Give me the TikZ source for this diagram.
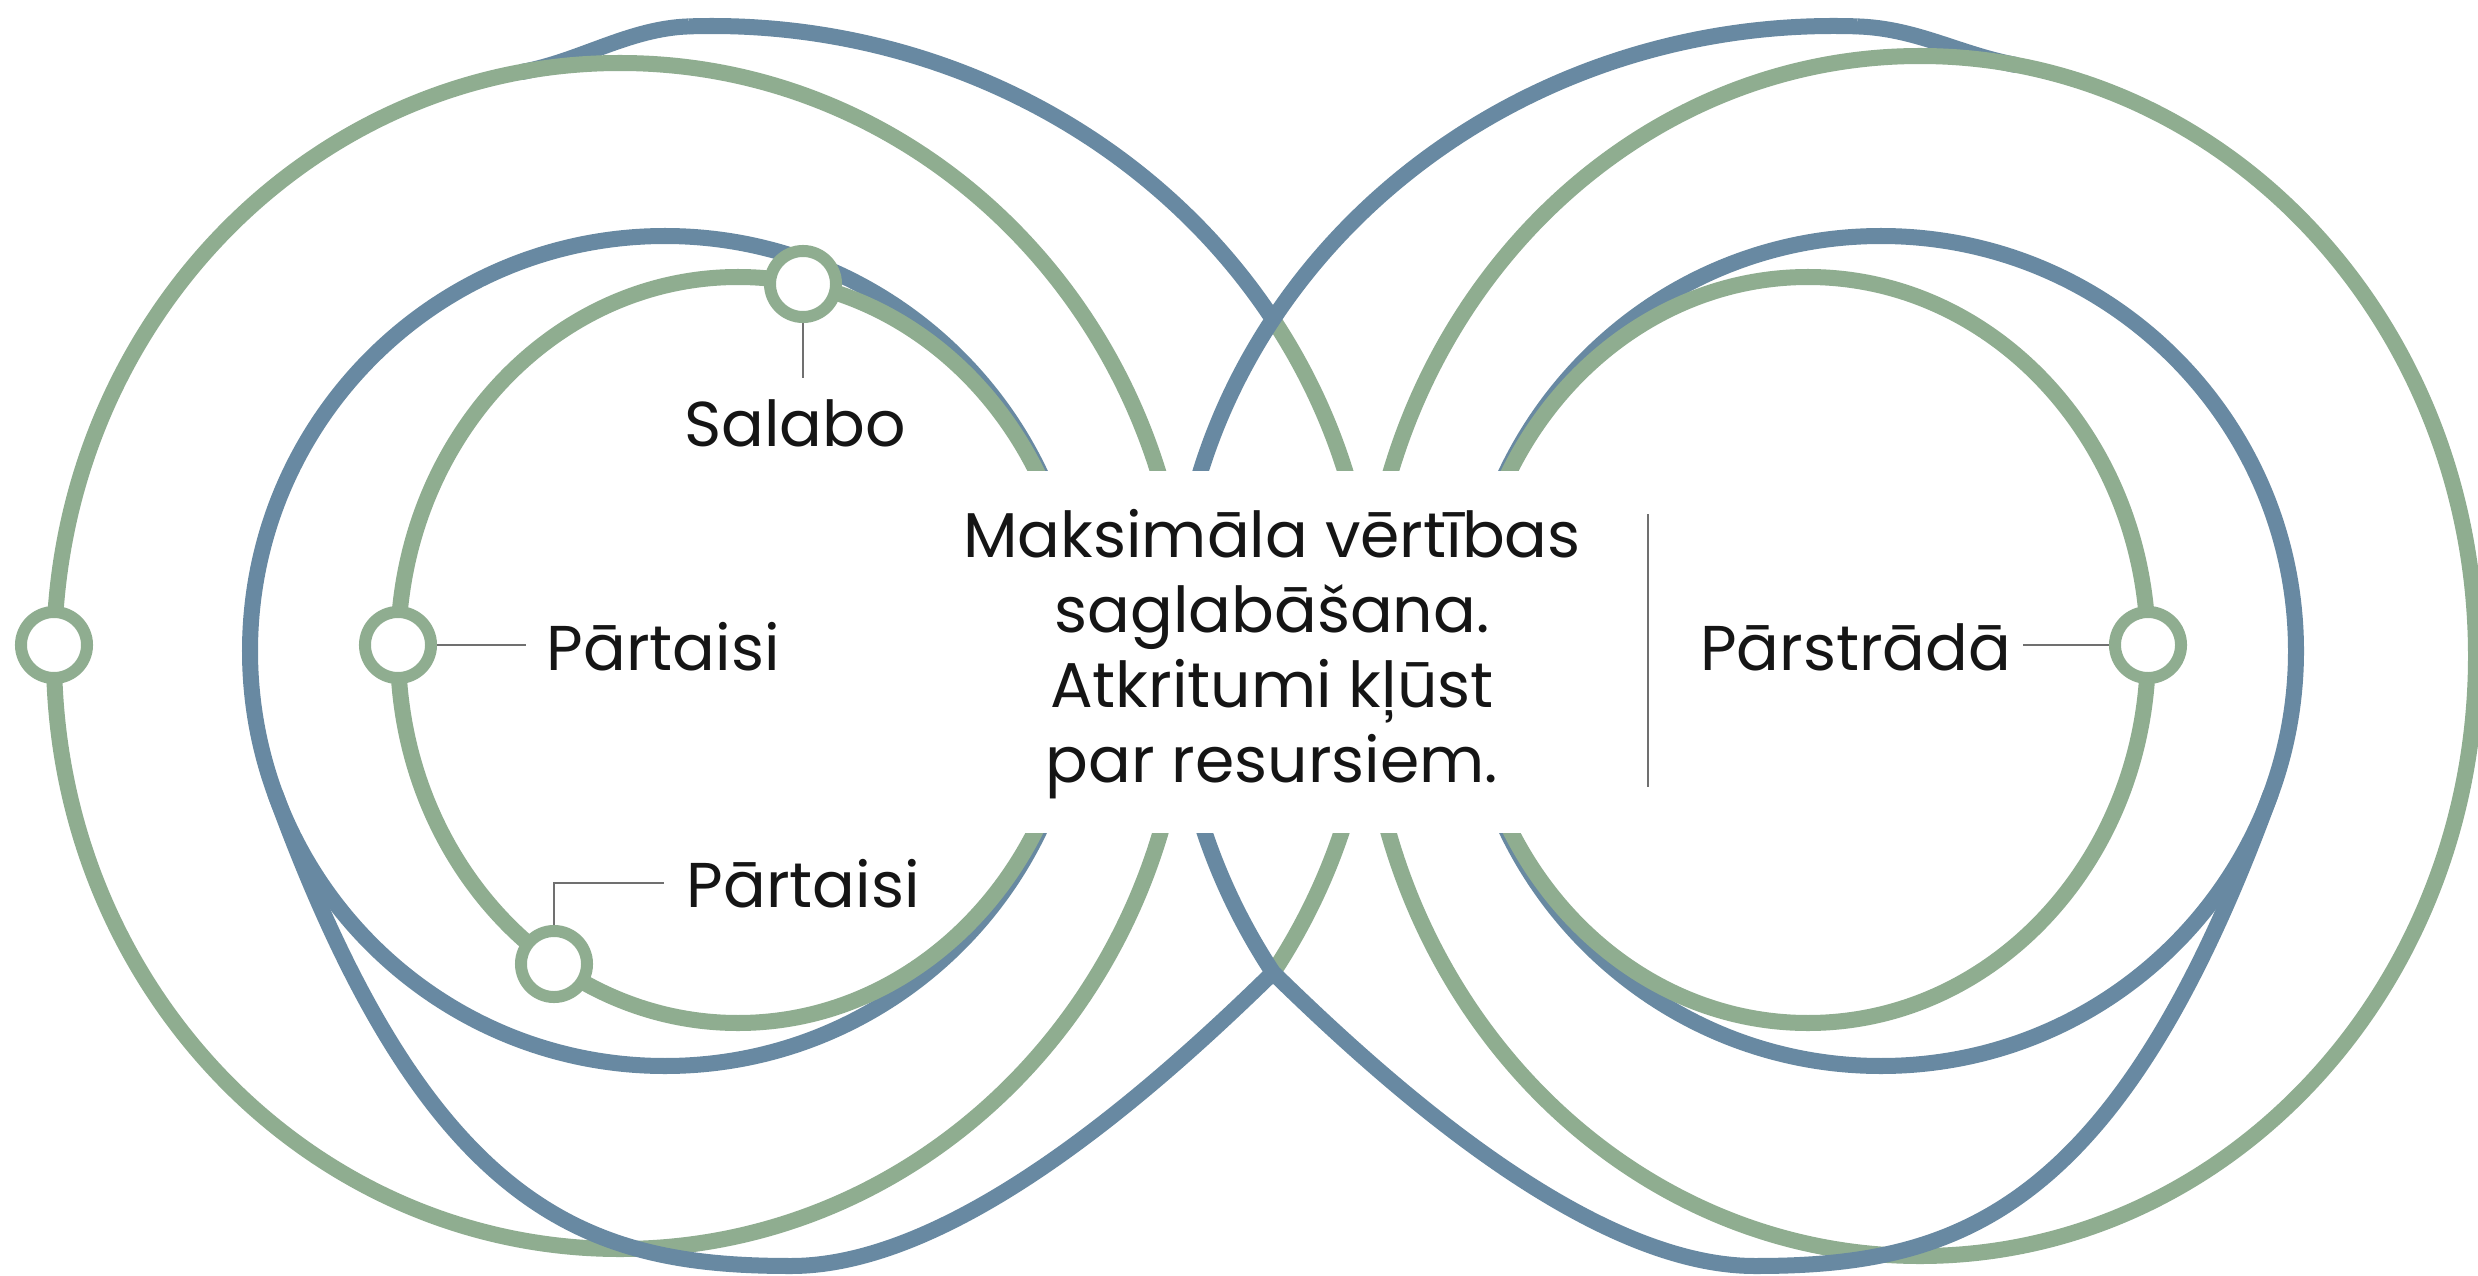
\documentclass[tikz,border=0pt]{standalone}
\usepackage{fontspec}
\setmainfont{Poppins}
\definecolor{ringgreen}{HTML}{8FAD90}
\definecolor{ringblue}{HTML}{6889A2}
\definecolor{linegray}{HTML}{707070}
\definecolor{txtcol}{HTML}{151515}
\begin{document}
\begin{tikzpicture}[x=0.01cm,y=-0.01cm,
  ring/.style={line width=0.16cm},
  gring/.style={ring, draw=ringgreen},
  bring/.style={ring, draw=ringblue},
  dot/.style={circle, draw=ringgreen, fill=white, line width=0.12cm, minimum size=0.66cm, inner sep=0pt},
  lead/.style={draw=linegray, line width=0.7pt},
  lbl/.style={font=\fontsize{18}{21.3}\selectfont, text=txtcol, inner sep=0pt},
]
\fill[white] (0,0) rectangle (2478,1276);
\useasboundingbox (0,0) rectangle (2478,1276);

% start of the big loops, rising out of the outer rings
\draw[bring] (521.7,72) .. controls (580.7,61.1) and (629,28.4) .. (689,26.4);
\draw[bring] (2016.5,65.1) .. controls (1957.6,53.9) and (1917,28.4) .. (1857,26.4);

% outer green rings
\draw[gring] (620,656) ellipse [x radius=566, y radius=593];
\draw[gring] (1920,656) ellipse [x radius=556, y radius=600];
% middle blue rings
\draw[bring] (665,651) circle [radius=415];
\draw[bring] (1881,651) circle [radius=415];
% inner green rings
\draw[gring] (738,650) ellipse [x radius=340, y radius=373];
\draw[gring] (1808,650) ellipse [x radius=340, y radius=373];

% left big loop (blue, with green stretch between the crossings)
\draw[bring] (712,646) ++(268:660 and 620) arc[start angle=268, end angle=328.2, x radius=660, y radius=620];
\draw[gring] (712,646) ++(328.2:660 and 620) arc[start angle=328.2, end angle=391.8, x radius=660, y radius=620];
\draw[bring] (712,646) ++(391.8:660 and 620)
  .. controls (1168,1075) and (961,1266) .. (791,1266)
  .. controls (591,1266) and (429,1216) .. (275,793);

% right big loop
\draw[bring] (1834,646) ++(272:660 and 620) arc[start angle=272, end angle=148.2, x radius=660, y radius=620]
  .. controls (1378,1075) and (1585,1266) .. (1755,1266)
  .. controls (1955,1266) and (2117,1216) .. (2271,793);

% white panel behind central text
\fill[white] (945,471) rectangle (1665,833);

% markers
\node[dot] (n1) at (54,645) {};
\node[dot] (n2) at (398,645) {};
\node[dot] (n3) at (803,284) {};
\node[dot] (n4) at (554,964) {};
\node[dot] (n5) at (2148,645) {};

% labels
\node[lbl, anchor=base] (t1) at (795,446) {Salabo};
\node[lbl, anchor=base west] (t2) at (546,670) {Pārtaisi};
\node[lbl, anchor=base west] (t3) at (686,907) {Pārtaisi};
\node[lbl, anchor=base east] (t5) at (2012,670) {Pārstrādā};
\node[lbl, align=center] (tc) at (1272,654) {Maksimāla vērtības\\saglabāšana.\\Atkritumi kļūst\\par resursiem.};

% leader lines
\coordinate (c3) at (803,378);
\coordinate (c2) at (526,645);
\coordinate (c4a) at (554,883);
\coordinate (c4b) at (664,883);
\coordinate (c5) at (2023,645);
\coordinate (d1) at (1648,514);
\coordinate (d2) at (1648,787);
\draw[lead] (n3) -- (c3);
\draw[lead] (n2) -- (c2);
\draw[lead] (n4) -- (c4a) -- (c4b);
\draw[lead] (c5) -- (n5);
\draw[lead] (d1) -- (d2);
\end{tikzpicture}
\end{document}
